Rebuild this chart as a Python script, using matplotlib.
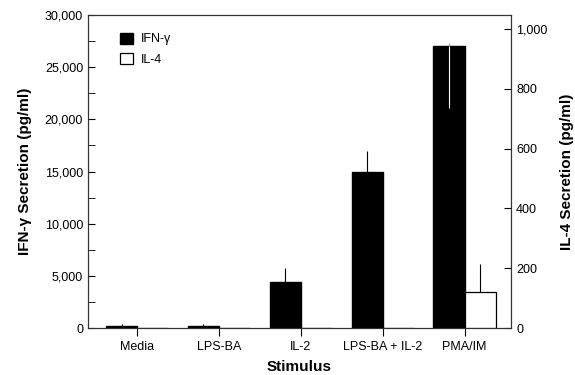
import matplotlib
matplotlib.use('Agg')
import matplotlib.pyplot as plt
import numpy as np

plt.rcParams['font.family'] = ['Liberation Sans', 'DejaVu Sans']

stimuli = ["Media", "LPS-BA", "IL-2", "LPS-BA + IL-2", "PMA/IM"]
ifn = [200, 200, 4400, 15000, 27000]
ifn_err = [150, 150, 1400, 2000, 300]
il4 = [0, 2, 2, 2, 120]
il4_err = [0, 0, 0, 0, 95]

x = np.arange(len(stimuli))
w = 0.38

fig = plt.figure(figsize=(5.75, 3.75), dpi=100)
ax = fig.add_axes([0.153, 0.125, 0.736, 0.835])
ax2 = ax.twinx()

ax.bar(x - w / 2, ifn, w, color='black', edgecolor='black', label='IFN-\u03b3', zorder=2)
ax.errorbar(x[:4] - w / 2, ifn[:4], yerr=[[0] * 4, ifn_err[:4]], fmt='none',
            ecolor='black', elinewidth=0.8, capsize=0, zorder=3)
# the PMA/IM error line shows white inside the black bar, grey above it
ax.errorbar([x[4] - w / 2], [ifn[4]], yerr=[[5900], [0]], fmt='none',
            ecolor='white', elinewidth=0.8, capsize=0, zorder=3)
ax.errorbar([x[4] - w / 2], [ifn[4]], yerr=[[0], [ifn_err[4]]], fmt='none',
            ecolor='#999999', elinewidth=0.8, capsize=0, zorder=3)

ax2.bar(x + w / 2, il4, w, color='white', edgecolor='black', linewidth=0.9, label='IL-4', zorder=2)
ax2.errorbar(x + w / 2, il4, yerr=[[0] * 5, il4_err], fmt='none',
             ecolor='black', elinewidth=0.8, capsize=0)

ax.set_xlim(-0.6, 4.57)
ax.set_ylim(0, 30000)
ax2.set_ylim(0, 1047)

ax.set_yticks(range(0, 30001, 5000))
ax.set_yticklabels(['0', '5,000', '10,000', '15,000', '20,000', '25,000', '30,000'])
ax.set_yticks(range(2500, 30000, 5000), minor=True)
ax2.set_yticks(range(0, 1001, 200))
ax2.set_yticklabels(['0', '200', '400', '600', '800', '1,000'])

ax.set_xticks(x)
ax.set_xticklabels(stimuli)

ax.tick_params(axis='y', which='both', direction='in', labelsize=9, length=5)
ax.tick_params(axis='x', direction='out', labelsize=9, length=6)
ax2.tick_params(axis='y', direction='in', labelsize=9, length=5)

for a in (ax, ax2):
    for s in a.spines.values():
        s.set_color('#333333')

ax.set_ylabel('IFN-\u03b3 Secretion (pg/ml)', fontsize=11, fontweight='bold', labelpad=9)
ax2.set_ylabel('IL-4 Secretion (pg/ml)', fontsize=11, fontweight='bold', labelpad=9)
ax.set_xlabel('Stimulus', fontsize=11, fontweight='bold', labelpad=5)

h1, l1 = ax.get_legend_handles_labels()
h2, l2 = ax2.get_legend_handles_labels()
ax2.legend(h1 + h2, l1 + l2, loc='upper left', bbox_to_anchor=(0.05, 0.98),
           frameon=False, fontsize=9, handlelength=1.0, handleheight=1.0,
           handletextpad=0.6, labelspacing=0.6)

fig.savefig('out.png', dpi=100)
